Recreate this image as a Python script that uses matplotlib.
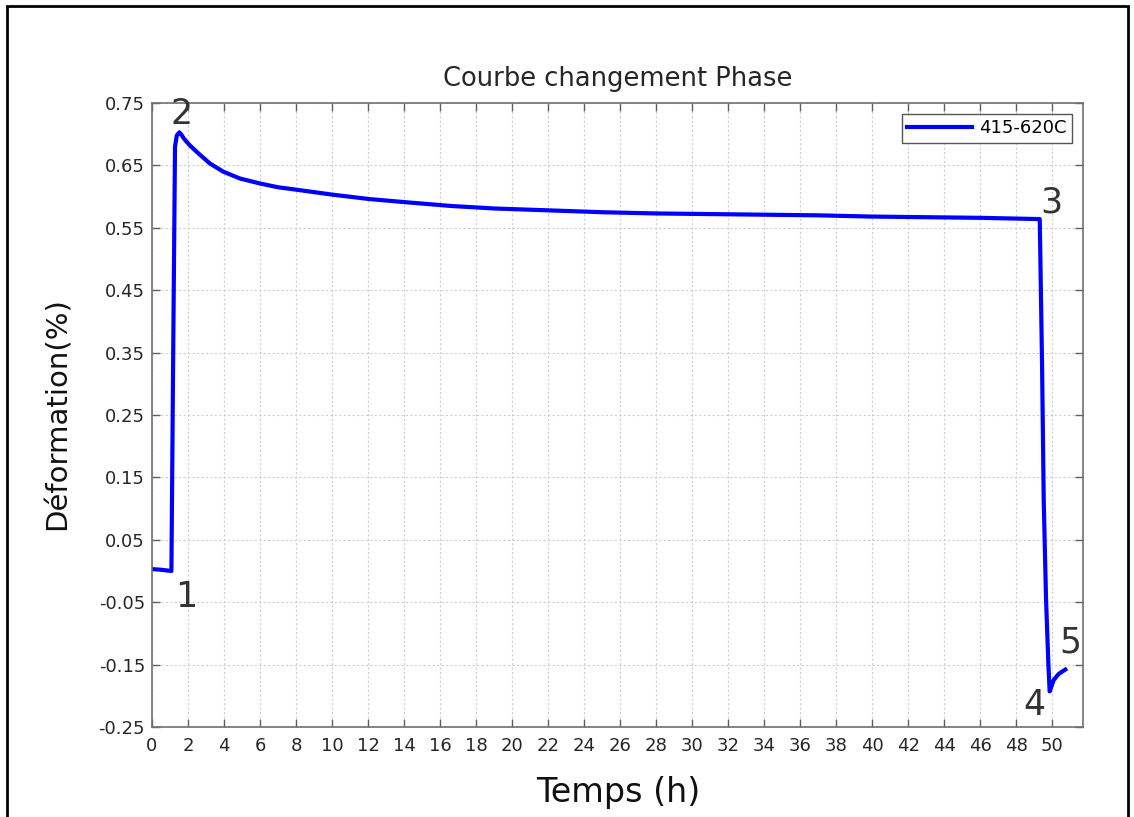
"""Courbe de changement de phase (415-620C): déformation vs temps."""

import matplotlib
matplotlib.use("Agg")
import matplotlib.pyplot as plt
from matplotlib.patches import Rectangle

# Data
time_h = [0.0, 0.5, 1.08, 1.18, 1.28, 1.38, 1.52, 1.62, 1.75, 1.92, 2.11,
          2.4, 2.67, 3.22, 3.96, 4.89, 6.0, 7.0, 8.04, 10.06, 12.1, 14.1,
          16.6, 19.0, 22.0, 25.0, 28.0, 31.0, 34.0, 37.0, 40.0, 43.0,
          46.0, 49.3, 49.43, 49.52, 49.65, 49.78, 49.85, 49.95, 50.07,
          50.35, 50.72]
deformation = [0.003, 0.002, 0.0, 0.35, 0.68, 0.698, 0.703, 0.700, 0.694,
               0.688, 0.682, 0.674, 0.667, 0.653, 0.640, 0.629, 0.621,
               0.615, 0.611, 0.603, 0.596, 0.591, 0.585, 0.581, 0.578,
               0.575, 0.573, 0.572, 0.571, 0.570, 0.568, 0.567, 0.566,
               0.564, 0.327, 0.114, -0.046, -0.15, -0.193, -0.185, -0.175,
               -0.165, -0.158]

# Annotated points 1..5
point_labels = ["1", "2", "3", "4", "5"]
point_t = [1.9, 1.67, 49.95, 49.0, 51.0]
point_v = [-0.042, 0.733, 0.590, -0.215, -0.115]

x_ticks = list(range(0, 51, 2))
y_ticks = [-0.25, -0.15, -0.05, 0.05, 0.15, 0.25, 0.35, 0.45, 0.55, 0.65, 0.75]

plt.rcParams["font.family"] = "DejaVu Sans"

fig = plt.figure(figsize=(11.34, 8.17), dpi=100)
ax = fig.add_axes([0.134, 0.1102, 0.821, 0.7637])

ax.plot(time_h, deformation, color="#0000ff", linewidth=3, label="415-620C",
        solid_joinstyle="round")

for lab, t, v in zip(point_labels, point_t, point_v):
    ax.text(t, v, lab, fontsize=25, color="#333333", ha="center", va="center")

ax.set_xlim(0, 51.7)
ax.set_ylim(-0.25, 0.75)
ax.set_xticks(x_ticks)
ax.set_yticks(y_ticks)
ax.set_yticklabels([f"{v:.2f}" for v in y_ticks])
ax.tick_params(direction="in", length=6, width=1, colors="#606060",
               labelcolor="#262626", labelsize=13, top=True, right=True)
ax.tick_params(axis="y", pad=5)
ax.tick_params(axis="x", pad=7)
for sp in ax.spines.values():
    sp.set_color("#707070")
    sp.set_linewidth(1.2)
ax.grid(True, color="#cfcfcf", linestyle=(0, (2, 2)), linewidth=0.8)
ax.set_axisbelow(True)

ax.set_title("Courbe changement Phase", fontsize=18.5, color="#262626", pad=12)

leg = ax.legend(loc="upper right", fontsize=13, handlelength=3.6,
                handletextpad=0.4, borderpad=0.3, fancybox=False,
                framealpha=1, borderaxespad=0.6)
leg.get_frame().set_edgecolor("#555555")
leg.get_frame().set_linewidth(1)

fig.text(58 / 1134, 1 - 414 / 817, "Déformation(%)", fontsize=21,
         rotation=90, ha="center", va="center", color="#111111")
fig.text(618 / 1134, 1 - 802 / 817, "Temps (h)", fontsize=24,
         ha="center", va="baseline", color="#111111")

# outer frame (bottom edge falls outside the picture)
fig.patches.append(Rectangle((7 / 1134, -0.05), 1121 / 1134, 1.05 - 6 / 817,
                             transform=fig.transFigure, fill=False,
                             edgecolor="black", linewidth=2, zorder=10))

fig.savefig("out.png", dpi=100)
